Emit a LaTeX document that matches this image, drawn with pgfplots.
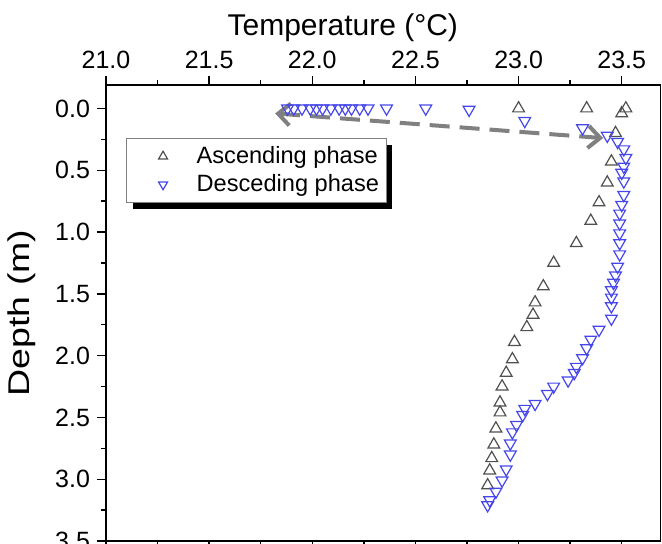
\documentclass[border=0pt]{standalone}
\usepackage{fontspec}
\setmainfont{Liberation Sans}
\usepackage{graphicx}
\usepackage{pgfplots}
\usepackage{pgfplotstable}
\pgfplotsset{compat=1.18}
\usetikzlibrary{arrows.meta,shadows}
\definecolor{ascgray}{RGB}{80,80,80}
\definecolor{desblue}{RGB}{70,70,235}
\definecolor{arrgray}{RGB}{128,128,128}

\pgfplotstableread{
T d
23.00 0.00
23.33 0.00
23.52 0.00
23.50 0.04
23.47 0.20
23.45 0.43
23.43 0.60
23.39 0.76
23.35 0.91
23.28 1.09
23.17 1.25
23.12 1.44
23.08 1.57
23.07 1.67
23.04 1.77
22.98 1.89
22.97 2.03
22.94 2.14
22.92 2.25
22.91 2.38
22.91 2.46
22.89 2.59
22.88 2.72
22.87 2.83
22.86 2.93
22.85 3.05
}\ascending

\pgfplotstableread{
T d
21.88 0.00
21.91 0.00
21.95 0.00
21.99 0.00
22.02 0.00
22.05 0.00
22.09 0.00
22.13 0.00
22.16 0.00
22.19 0.00
22.23 0.00
22.27 0.00
22.36 0.00
22.55 0.00
22.76 0.01
23.03 0.10
23.31 0.16
23.43 0.22
23.48 0.27
23.51 0.33
23.52 0.40
23.51 0.47
23.50 0.52
23.51 0.59
23.51 0.70
23.50 0.78
23.49 0.85
23.49 0.93
23.49 1.01
23.49 1.09
23.49 1.18
23.48 1.28
23.47 1.35
23.46 1.41
23.45 1.47
23.45 1.53
23.45 1.60
23.45 1.70
23.39 1.79
23.35 1.87
23.33 1.94
23.31 2.02
23.28 2.09
23.27 2.14
23.24 2.20
23.17 2.25
23.14 2.31
23.08 2.39
23.03 2.43
23.02 2.48
22.99 2.56
22.97 2.62
22.96 2.71
22.96 2.80
22.94 2.92
22.92 3.01
22.89 3.10
22.86 3.17
22.85 3.21
}\descending

\begin{document}
\begin{tikzpicture}
\begin{axis}[
  scale only axis,
  width=277.25pt, height=228pt,
  xmin=21, xmax=23.688,
  ymin=-0.19, ymax=3.5,
  y dir=reverse,
  xtick={21,21.5,22,22.5,23,23.5},
  ytick={0,0.5,1,1.5,2,2.5,3,3.5},
  minor x tick num=1, minor y tick num=1,
  xticklabel pos=upper,
  ytick pos=left,
  tick align=outside,
  major tick length=4.5pt, minor tick length=2.5pt,
  every tick/.style={black, line width=0.7pt},
  axis line style={line width=0.7pt},
  ticklabel style={font=\fontsize{12.5}{14}\selectfont},
  /pgf/number format/.cd, fixed, fixed zerofill, precision=1, assume math mode=true,
  /pgfplots/.cd,
  xlabel={Temperature (°C)},
  xlabel style={font=\fontsize{15}{17}\selectfont, at={(axis description cs:0.427,1)}, anchor=base, yshift=24.5pt},
  ylabel={\scalebox{1.25}[1]{Depth (m)}},
  ylabel style={font=\fontsize{15}{17}\selectfont, at={(axis description cs:-0.152,0.5)}, anchor=center},
  legend style={
    at={(axis description cs:0.036,0.884)}, anchor=north west,
    draw=gray, line width=0.5pt, fill=white,
    font=\fontsize{11.8}{13}\selectfont,
    inner xsep=1.5pt, inner ysep=2pt,
    row sep=0pt,
    drop shadow={shadow xshift=3.2pt, shadow yshift=-3.2pt, fill=black, opacity=1},
  },
  legend cell align=left,
  legend image code/.code={%
    \path (0pt,0pt) (31pt,0pt);
    \draw[#1, mark size=2.6pt] plot coordinates {(16.5pt,0pt)};
  },
]
\addplot[only marks, mark=triangle, mark size=3.4pt, ascgray, line width=0.6pt] table[x=T, y=d] {\ascending};
\addlegendentry{Ascending phase}
\addplot[only marks, mark=triangle, mark options={rotate=180}, mark size=3.4pt, desblue, line width=0.6pt] table[x=T, y=d] {\descending};
\addlegendentry{Desceding phase}
\draw[arrgray, line width=2pt, dash pattern=on 10pt off 5pt,
  {Straight Barb[length=6pt,width=11pt]}-{Straight Barb[length=6pt,width=11pt]}]
  (axis cs:21.82,0.04) -- (axis cs:23.41,0.24);
\coordinate (SW) at (axis description cs:0,0);
\coordinate (NE) at (axis description cs:1,1);
\end{axis}
\pgfresetboundingbox
\path[use as bounding box] ([xshift=-53pt,yshift=-1.5pt]SW) rectangle ([xshift=0.75pt,yshift=42.5pt]NE);
\end{tikzpicture}
\end{document}
